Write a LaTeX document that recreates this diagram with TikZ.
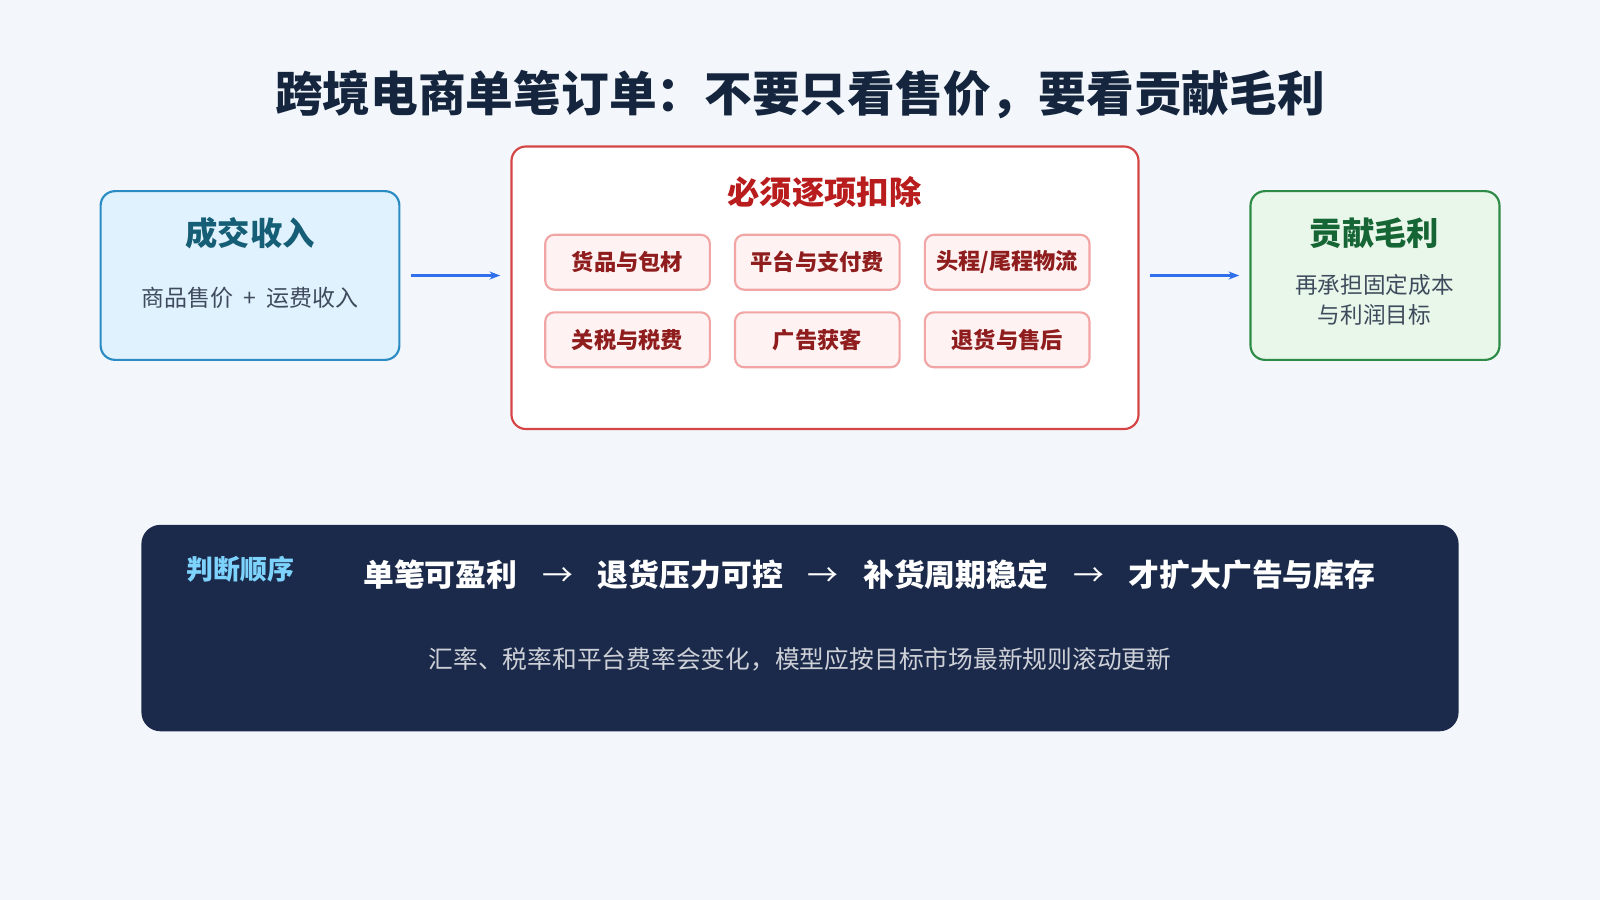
\documentclass[tikz,border=0pt]{standalone}
\usepackage{fontspec}
\setmainfont{Noto Sans CJK SC}
\usetikzlibrary{positioning,arrows.meta}
\definecolor{bgc}{HTML}{F3F7FC}
\definecolor{titc}{HTML}{14253D}
\definecolor{bluefill}{HTML}{E0F2FE}
\definecolor{blueline}{HTML}{2B8CC4}
\definecolor{bluetxt}{HTML}{155E75}
\definecolor{arrc}{HTML}{2F6FEB}
\definecolor{redline}{HTML}{D64545}
\definecolor{redtxt}{HTML}{B91C1C}
\definecolor{chipfill}{HTML}{FEF2F2}
\definecolor{chipline}{HTML}{F2A5A5}
\definecolor{chiptxt}{HTML}{8F1D1D}
\definecolor{greenfill}{HTML}{E8F7EA}
\definecolor{greenline}{HTML}{2E8B45}
\definecolor{greentxt}{HTML}{166534}
\definecolor{navy}{HTML}{1B2A4A}
\definecolor{skytxt}{HTML}{7DD3FC}
\definecolor{graytxt}{HTML}{3F4B5C}
\newcommand{\pxu}{pt*0.2832}
\newcommand{\nxt}{\hspace{0.8em}{\mdseries →}\hspace{0.8em}}
\tikzset{
  box/.style={draw, rounded corners=4pt, line width=0.6pt, inner sep=0pt},
  chip/.style={box, rounded corners=2.5pt, fill=chipfill, draw=chipline, minimum width=162\pxu, minimum height=54\pxu,
    text=chiptxt, font=\fontsize{6.2}{7}\selectfont\bfseries},
  flow/.style={-{Stealth[length=3pt]}, line width=1.1pt, draw=arrc, shorten <=10\pxu, shorten >=10\pxu}
}
\begin{document}
\begin{tikzpicture}[x=0.01cm,y=-0.01cm]
\fill[bgc] (0,0) rectangle (1568,882);
\useasboundingbox (0,0) rectangle (1568,882);
% title
\node[text=titc, font=\fontsize{13.3}{16}\selectfont\bfseries] (title) at (784,93) {跨境电商单笔订单：不要只看售价，要看贡献毛利};
% revenue
\node[box, fill=bluefill, draw=blueline, minimum width=294\pxu, minimum height=166\pxu] (rev) at (245,270) {};
\node[text=bluetxt, font=\fontsize{9}{10}\selectfont\bfseries] (revt) at (245,229) {成交收入};
\node[text=graytxt, font=\fontsize{6.4}{7}\selectfont] (revs) at (245,292) {商品售价\hspace{0.45em}+\hspace{0.45em}运费收入};
% deductions
\node[box, fill=white, draw=redline, minimum width=617\pxu, minimum height=278\pxu] (ded) at (808.5,282) {};
\node[text=redtxt, font=\fontsize{9}{10}\selectfont\bfseries] (dedt) at (808,188) {必须逐项扣除};
\node[chip] (c1) at (615,257) {货品与包材};
\node[chip] (c2) at (801,257) {平台与支付费};
\node[chip] (c3) at (987,257) {头程/尾程物流};
\node[chip] (c4) at (615,333) {关税与税费};
\node[chip] (c5) at (801,333) {广告获客};
\node[chip] (c6) at (987,333) {退货与售后};
% margin
\node[box, fill=greenfill, draw=greenline, minimum width=245\pxu, minimum height=166\pxu] (gm) at (1347.5,270) {};
\node[text=greentxt, font=\fontsize{9}{10}\selectfont\bfseries] (gmt) at (1347,229) {贡献毛利};
\node[text=graytxt, font=\fontsize{6.3}{8.2}\selectfont, align=center] (gms) at (1347,294) {再承担固定成本\\与利润目标};
\draw[flow] (rev.east) -- (rev.east -| ded.west);
\draw[flow] (ded.east |- gm.west) -- (gm.west);
% order
\node[box, rounded corners=5pt, fill=navy, draw=navy, minimum width=1294\pxu, minimum height=201\pxu] (ord) at (784,615.5) {};
\node[text=skytxt, font=\fontsize{7.5}{9}\selectfont\bfseries] (ordt) at (236,558) {判断顺序};
\node[text=white, font=\fontsize{8.6}{10}\selectfont\bfseries] (chain) at (852,563) {单笔可盈利\nxt 退货压力可控\nxt 补货周期稳定\nxt 才扩大广告与库存};
\node[text=white!78!navy, font=\fontsize{6.9}{8}\selectfont] (note) at (784,646) {汇率、税率和平台费率会变化，模型应按目标市场最新规则滚动更新};
\end{tikzpicture}
\end{document}
